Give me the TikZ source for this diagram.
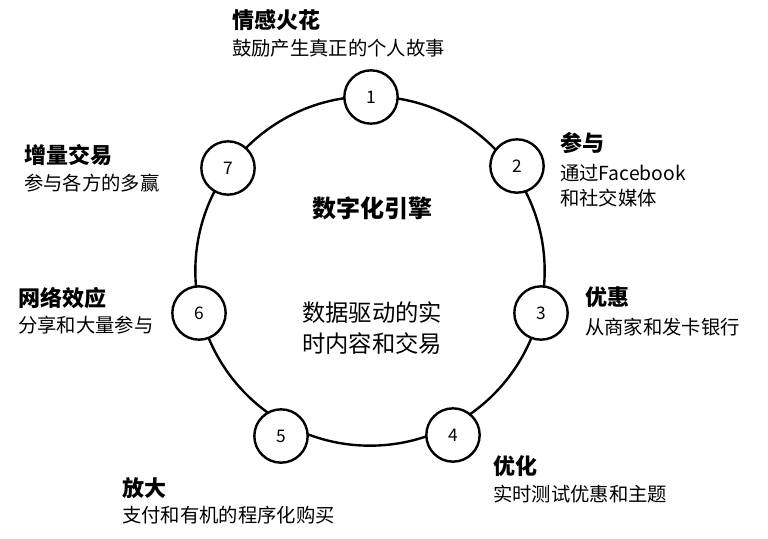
\documentclass[tikz,border=0pt]{standalone}
\usepackage{fontspec}
\setmainfont{Noto Sans CJK SC}
\begin{document}
\begin{tikzpicture}[x=0.75pt,y=-0.75pt,
  num/.style={circle,draw,line width=1.8pt,fill=white,minimum size=40pt,inner sep=0pt,font=\fontsize{13}{15}\selectfont},
  ttl/.style={anchor=west,inner sep=0pt,font=\fontsize{16.5}{19}\selectfont\bfseries},
  sub/.style={anchor=west,inner sep=0pt,font=\fontsize{14.5}{19}\selectfont,align=left}]
\useasboundingbox (0,0) rectangle (768,539);
\node[draw,circle,line width=1.8pt,minimum size=262pt,inner sep=0pt] (ring) at (370,271) {};
\node[num] (n1) at (371,97) {1};
\node[num] (n2) at (517,166) {2};
\node[num] (n3) at (541,313) {3};
\node[num] (n4) at (453,435) {4};
\node[num] (n5) at (281,436) {5};
\node[num] (n6) at (199,313) {6};
\node[num] (n7) at (228,168) {7};
\node[ttl] (t1) at (232,20) {情感火花};
\node[sub] (s1) at (232,48) {鼓励产生真正的个人故事};
\node[ttl] (t2) at (560,143) {参与};
\node[sub] (s2) at (560,186) {通过Facebook\\和社交媒体};
\node[ttl] (t3) at (585,297) {优惠};
\node[sub] (s3) at (585,327) {从商家和发卡银行};
\node[ttl] (t4) at (493,466) {优化};
\node[sub] (s4) at (493,494) {实时测试优惠和主题};
\node[ttl] (t5) at (122,488) {放大};
\node[sub] (s5) at (122,515) {支付和有机的程序化购买};
\node[ttl] (t6) at (18,298) {网络效应};
\node[sub] (s6) at (18,325) {分享和大量参与};
\node[ttl] (t7) at (24,155) {增量交易};
\node[sub] (s7) at (24,183) {参与各方的多赢};
\node[inner sep=0pt,font=\fontsize{18}{20}\selectfont\bfseries] (c1) at (372,208) {数字化引擎};
\node[inner sep=0pt,font=\fontsize{17.5}{23}\selectfont,align=center] (c2) at (372,328) {数据驱动的实\\时内容和交易};
\end{tikzpicture}
\end{document}
